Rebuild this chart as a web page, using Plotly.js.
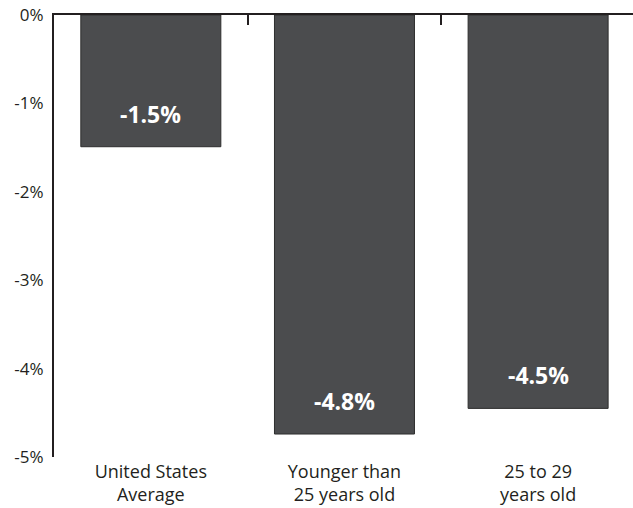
<!DOCTYPE html>
<html>
<head>
<meta charset="utf-8">
<script src="https://cdn.plot.ly/plotly-3.0.1.min.js"></script>
<style>html,body{margin:0;padding:0;background:#fff;overflow:hidden}#chart{width:633px;height:508px}</style>
</head>
<body>
<div id="chart"></div>
<script>
var categories = ["United States<br>Average", "Younger than<br>25 years old", "25 to 29<br>years old"];
var values = [-1.49, -4.74, -4.45];
var valueLabels = ["-1.5%", "-4.8%", "-4.5%"];
var yTickVals = [0, -1, -2, -3, -4, -5];
var yTickText = ["0%", "-1%", "-2%", "-3%", "-4%", "-5%"];

var FONT = "Open Sans, Noto Sans, sans-serif";

var traces = [
  {
    type: "bar",
    x: categories,
    y: values,
    marker: {color: "#4b4c4e", line: {color: "#2e2e2e", width: 1}},
    hoverinfo: "skip"
  },
  {
    type: "scatter",
    mode: "none",
    x: categories,
    y: values,
    xaxis: "x2",
    yaxis: "y",
    hoverinfo: "skip",
    showlegend: false
  }
];

var annotations = categories.map(function (c, i) {
  return {
    x: c, y: values[i], xref: "x", yref: "y",
    text: "<b>" + valueLabels[i] + "</b>",
    showarrow: false, yanchor: "middle", yshift: 33,
    font: {family: FONT, size: 23, color: "#ffffff"}
  };
});

var layout = {
  width: 633, height: 508,
  margin: {l: 54, r: 0, t: 15, b: 51},
  paper_bgcolor: "#ffffff", plot_bgcolor: "#ffffff",
  showlegend: false,
  bargap: 0.277,
  font: {family: FONT, color: "#231f20"},
  xaxis: {
    type: "category",
    range: [-0.5, 2.49],
    showline: false, showgrid: false, zeroline: false,
    ticks: "",
    ticklabelstandoff: 2,
    tickfont: {family: FONT, size: 18, color: "#231f20"},
    fixedrange: true
  },
  xaxis2: {
    type: "category",
    overlaying: "x",
    side: "top",
    range: [-0.5, 2.49],
    showline: true, linecolor: "#231f20", linewidth: 2,
    showgrid: false, zeroline: false,
    ticks: "inside", tickson: "boundaries", ticklen: 10, tickwidth: 2, tickcolor: "#231f20",
    showticklabels: false,
    fixedrange: true
  },
  yaxis: {
    range: [-5, 0],
    tickvals: yTickVals, ticktext: yTickText,
    showline: true, linecolor: "#231f20", linewidth: 2,
    showgrid: false, zeroline: false,
    ticks: "",
    ticklabelstandoff: 5,
    tickfont: {family: FONT, size: 17, color: "#231f20"},
    fixedrange: true
  },
  annotations: annotations
};

Plotly.newPlot("chart", traces, layout, {displayModeBar: false, staticPlot: true});
</script>
</body>
</html>
